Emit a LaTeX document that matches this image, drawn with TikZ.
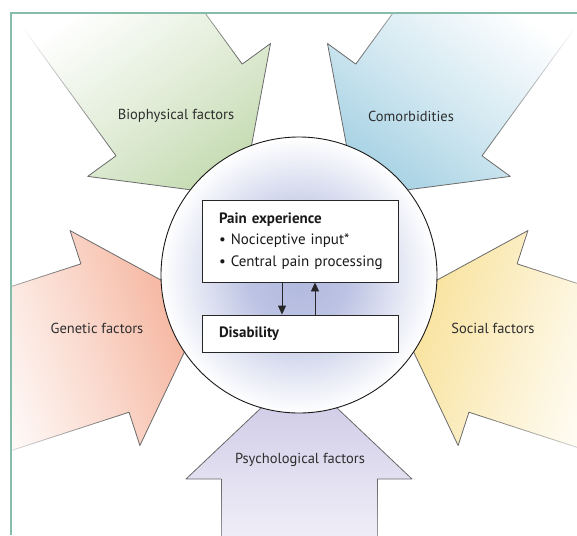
\documentclass[tikz,border=0pt]{standalone}
\usepackage{fontspec}
\setmainfont{PT Sans}
\usetikzlibrary{arrows.meta}
\definecolor{frameC}{HTML}{86BCAA}
\definecolor{cgreen}{HTML}{C8DDB6}
\definecolor{cblue}{HTML}{ABD4E5}
\definecolor{cred}{HTML}{F6BAA5}
\definecolor{cyellow}{HTML}{F9E4A2}
\definecolor{cpurple}{HTML}{D3CFE9}
\definecolor{circC}{HTML}{B0B8DE}
\definecolor{arrline}{HTML}{6A6A6A}
\definecolor{labC}{HTML}{2E2E2E}
\pgfdeclarehorizontalshading{shgreen}{100bp}{color(0bp)=(cgreen); color(31bp)=(cgreen); color(44bp)=(cgreen!55!white); color(62bp)=(white); color(100bp)=(white)}
\pgfdeclarehorizontalshading{shblue}{100bp}{color(0bp)=(cblue); color(31bp)=(cblue); color(44bp)=(cblue!55!white); color(62bp)=(white); color(100bp)=(white)}
\pgfdeclarehorizontalshading{shred}{100bp}{color(0bp)=(cred); color(31bp)=(cred); color(44bp)=(cred!55!white); color(62bp)=(white); color(100bp)=(white)}
\pgfdeclarehorizontalshading{shyellow}{100bp}{color(0bp)=(cyellow); color(31bp)=(cyellow); color(44bp)=(cyellow!55!white); color(62bp)=(white); color(100bp)=(white)}
\pgfdeclarehorizontalshading{shpurple}{100bp}{color(0bp)=(cpurple); color(31bp)=(cpurple); color(44bp)=(cpurple!55!white); color(62bp)=(white); color(100bp)=(white)}
\pgfdeclareradialshading{circsh}{\pgfpoint{0bp}{0bp}}{color(0bp)=(circC); color(9bp)=(circC!85!white); color(25bp)=(white); color(50bp)=(white)}
\begin{document}
\begin{tikzpicture}[x=1pt,y=-1pt,
  lbl/.style={font=\fontsize{14.5}{16}\selectfont, text=labC, inner sep=0pt},
  boxC/.style={draw=black!85, line width=0.9pt, fill=white, text=black!90,
    font=\fontsize{15}{21.5}\selectfont, align=left, text width=184pt, inner xsep=6pt, minimum width=196pt},
  farrow/.style={-{Triangle[width=8pt,length=9pt]}, line width=0.9pt, black!85}
]
\useasboundingbox (0,0) rectangle (577,535);
\fill[white] (0,0) rectangle (577,535);
\coordinate (ctr) at (299,275);
\begin{scope}
\clip (11,13) rectangle (577,535);
\foreach \ang/\sh in {126/shgreen, 54/shblue, 198/shred, 342/shyellow, 270/shpurple}{
 \begin{scope}[transform canvas={shift={(299pt,-275pt)}, rotate=\ang}]
   \shade[shading=\sh] (97,0) -- (204,113) -- (204,78) -- (430,78) -- (430,-78) -- (204,-78) -- (204,-113) -- cycle;
   \draw[arrline, line width=0.8pt, line join=round] (204,78) -- (204,113) -- (97,0) -- (204,-113) -- (204,-78);
   \foreach \i [evaluate=\i as \op using {1-\i/26}] in {0,...,25}
     {\draw[arrline, line width=0.8pt, draw opacity=\op] ({204+6*\i},78) -- ({210+6*\i},78) ({204+6*\i},-78) -- ({210+6*\i},-78);}
 \end{scope}
}
\end{scope}
\shadedraw[shading=circsh, draw=black!90, line width=0.9pt] (ctr) circle (138pt);
\draw[frameC, line width=1.2pt] (11,535) -- (11,13) -- (577,13);
\node[lbl] (bio) at (176,116) {Biophysical factors};
\node[lbl] (com) at (411,116) {Comorbidities};
\node[lbl] (gen) at (97,328) {Genetic factors};
\node[lbl] (soc) at (493,328) {Social factors};
\node[lbl] (psy) at (300,460) {Psychological factors};
\node[boxC, minimum height=82pt] (pain) at (300,241) {\hspace*{11pt}\textbf{Pain experience}\\ \hspace*{11pt}• Nociceptive input*\\ \hspace*{11pt}• Central pain processing};
\node[boxC, minimum height=37pt] (dis) at (300,333.5) {\hspace*{11pt}\textbf{Disability}};
\coordinate (dx) at (282,0);
\coordinate (ux) at (315,0);
\draw[farrow] (pain.south -| dx) -- (dis.north -| dx);
\draw[farrow] (dis.north -| ux) -- (pain.south -| ux);
\end{tikzpicture}
\end{document}
